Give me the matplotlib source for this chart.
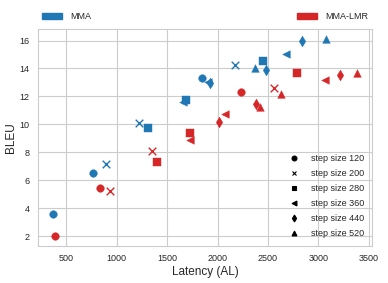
import numpy as np
import matplotlib
matplotlib.use("Agg")
import matplotlib.pyplot as plt
import matplotlib.patches as mpatches
from matplotlib.lines import Line2D
import seaborn as sns

sns.set_style("whitegrid")
plt.rcParams['font.family'] = ['Liberation Sans', 'DejaVu Sans']

steps = [120, 200, 280, 360, 440, 520]
markers = ['o', 'x', 's', '<', 'd', '^']

# latency (AL) and BLEU per step size
mma_al = {
    120: [369, 764, 1842],
    200: [889, 1218, 2178],
    280: [1306, 1682, 2455],
    360: [1662, 1902, 2682],
    440: [1928, 2484, 2840],
    520: [2376, 3077],
}
mma_bleu = {
    120: [3.59, 6.52, 13.29],
    200: [7.16, 10.07, 14.24],
    280: [9.74, 11.74, 14.54],
    360: [11.57, 13.0, 15.07],
    440: [12.93, 13.88, 16.0],
    520: [14.0, 16.12],
}
lmr_al = {
    120: [389, 835, 2228],
    200: [932, 1349, 2563],
    280: [1395, 1724, 2790],
    360: [1724, 2070, 3064],
    440: [2010, 2385, 3215],
    520: [2425, 2632, 3383],
}
lmr_bleu = {
    120: [2.0, 5.43, 12.3],
    200: [5.24, 8.07, 12.57],
    280: [7.3, 9.36, 13.66],
    360: [8.88, 10.71, 13.21],
    440: [10.14, 11.45, 13.52],
    520: [11.21, 12.14, 13.71],
}

blue = '#1f77b4'
red = '#d62728'

fig = plt.figure(figsize=(3.88, 2.83), dpi=100)
ax = fig.add_subplot(1, 1, 1)

for st, m in zip(steps, markers):
    lw = 1.0 if m == 'x' else 0.3
    ax.scatter(mma_al[st], mma_bleu[st], marker=m, color=blue, s=30,
               linewidths=lw, zorder=3)
    ax.scatter(lmr_al[st], lmr_bleu[st], marker=m, color=red, s=30,
               linewidths=lw, zorder=3)

ax.set_xlabel("Latency (AL)", fontsize=8.5, labelpad=2)
ax.set_ylabel("BLEU", fontsize=8.5, labelpad=2)
ax.tick_params(labelsize=6.5, pad=2.5)
ax.set_xticks([500, 1000, 1500, 2000, 2500, 3000, 3500])
ax.set_yticks([2, 4, 6, 8, 10, 12, 14, 16])

handles = [Line2D([], [], linestyle='none', marker=m, color='black',
                  markersize=3.5, markeredgewidth=0.8) for m in markers]
leg1 = ax.legend(handles, ["step size %d" % s for s in steps],
                 loc='lower right', fontsize=6.5, frameon=False,
                 labelspacing=0.65)
ax.add_artist(leg1)

patches = [mpatches.Patch(color=blue, label='MMA'),
           mpatches.Patch(color=red, label='MMA-LMR')]
ax.legend(handles=patches, loc='lower left', ncol=2, mode='expand',
          bbox_to_anchor=(0, 1.02, 1, 0.102), frameon=False,
          fontsize=6.5, handlelength=2.3, handletextpad=0.9,
          borderaxespad=0)

fig.subplots_adjust(left=0.098, right=0.959, bottom=0.131, top=0.8975)
fig.savefig("out.png", dpi=100)
